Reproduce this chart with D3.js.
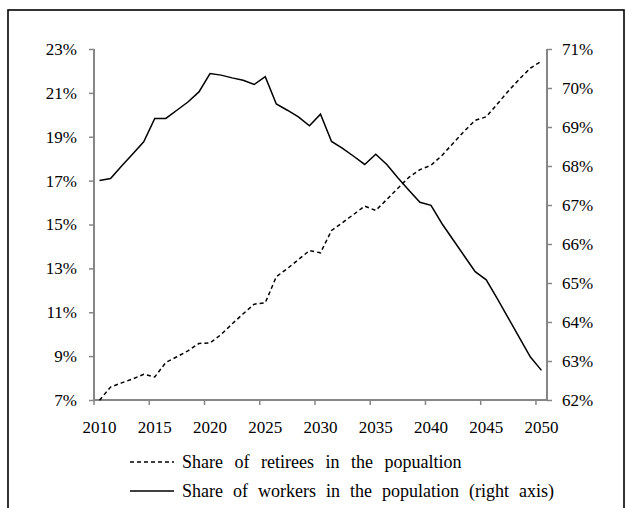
<!DOCTYPE html>
<html>
<head>
<meta charset="utf-8">
<script src="https://cdn.jsdelivr.net/npm/d3@7"></script>
<style>
  body { margin: 0; background: #fff; }
  text { font-family: "Liberation Serif", "Times New Roman", serif; fill: #000; }
</style>
</head>
<body>
<div id="chart"></div>
<script>
// anos (categorias)
const years = d3.range(2010, 2051);

// Share of retirees in the population (eixo esquerdo, %)
const retirees = [6.99, 7.59, 7.78, 7.96, 8.17, 8.05, 8.71, 8.97, 9.24, 9.58,
  9.60, 9.98, 10.47, 10.93, 11.37, 11.43, 12.62, 12.99, 13.40, 13.81,
  13.71, 14.73, 15.09, 15.46, 15.84, 15.64, 16.14, 16.65, 17.15, 17.50,
  17.70, 18.15, 18.70, 19.25, 19.75, 19.91, 20.49, 21.08, 21.63, 22.13, 22.45];

// Share of workers in the population (eixo direito, %)
const workers = [67.63, 67.68, 68.00, 68.31, 68.62, 69.22, 69.22, 69.43, 69.64, 69.90,
  70.37, 70.33, 70.26, 70.20, 70.09, 70.29, 69.59, 69.43, 69.26, 69.03,
  69.33, 68.63, 68.45, 68.25, 68.04, 68.30, 68.04, 67.70, 67.38, 67.07,
  66.99, 66.52, 66.11, 65.70, 65.29, 65.08, 64.60, 64.10, 63.60, 63.10, 62.76];

const leftTicks = [7, 9, 11, 13, 15, 17, 19, 21, 23];
const rightTicks = [62, 63, 64, 65, 66, 67, 68, 69, 70, 71];
const labelYears = [2010, 2015, 2020, 2025, 2030, 2035, 2040, 2045, 2050];

const legendNames = ["Share of retirees in the popualtion",
  "Share of workers in the population (right axis)"];

const W = 626, H = 508;
const plot = { left: 94, right: 547, top: 49, bottom: 400 };
const axisColor = "#868686";
const fontSize = "17px";

const svg = d3.select("#chart").append("svg")
  .attr("width", W).attr("height", H);

// moldura
svg.append("rect")
  .attr("x", 8).attr("y", 10)
  .attr("width", 616).attr("height", 520)
  .attr("fill", "none").attr("stroke", "#000").attr("stroke-width", 1.6);

const x = d3.scaleBand().domain(years).range([plot.left, plot.right]);
const xc = d => x(d) + x.bandwidth() / 2;
const yL = d3.scaleLinear().domain([7, 23]).range([plot.bottom, plot.top]);
const yR = d3.scaleLinear().domain([62, 71]).range([plot.bottom, plot.top]);

// eixo esquerdo
const gL = svg.append("g").attr("transform", `translate(${plot.left},0)`)
  .call(d3.axisLeft(yL).tickValues(leftTicks).tickSize(5).tickPadding(12)
    .tickFormat(d => d + "%"));
// eixo direito
const gR = svg.append("g").attr("transform", `translate(${plot.right},0)`)
  .call(d3.axisRight(yR).tickValues(rightTicks).tickSize(5).tickPadding(10)
    .tickFormat(d => d + "%"));

// eixo x: marcas entre categorias a cada 5 anos
const gX = svg.append("g").attr("transform", `translate(0,${plot.bottom})`);
gX.append("line")
  .attr("x1", plot.left).attr("x2", plot.right)
  .attr("stroke", axisColor).attr("stroke-width", 2);
gX.selectAll(".tk").data(labelYears).enter().append("line")
  .attr("x1", d => x(d)).attr("x2", d => x(d))
  .attr("y1", 0).attr("y2", 5)
  .attr("stroke", axisColor).attr("stroke-width", 1.5);
gX.selectAll(".lb").data(labelYears).enter().append("text")
  .attr("x", d => xc(d)).attr("y", 33)
  .attr("text-anchor", "middle")
  .style("font-size", fontSize)
  .text(d => d);

[gL, gR].forEach(g => {
  g.select(".domain").attr("stroke", axisColor).attr("stroke-width", 2)
    .attr("d", `M0,${plot.bottom}V${plot.top}`);
  g.selectAll(".tick line").attr("stroke", axisColor).attr("stroke-width", 1.5);
  g.selectAll(".tick text").style("font-size", fontSize).attr("fill", "#000");
});

// linhas
const lineL = d3.line().x((d, i) => xc(years[i])).y(d => yL(d));
const lineR = d3.line().x((d, i) => xc(years[i])).y(d => yR(d));

svg.append("path").datum(retirees)
  .attr("fill", "none").attr("stroke", "#000").attr("stroke-width", 1.5)
  .attr("stroke-dasharray", "4,3")
  .attr("d", lineL);

svg.append("path").datum(workers)
  .attr("fill", "none").attr("stroke", "#000").attr("stroke-width", 1.5)
  .attr("d", lineR);

// legenda (espaço entre palavras maior, como no original)
const leg = svg.append("g");
legendNames.forEach((name, i) => {
  const cy = 462 + i * 29;
  leg.append("line")
    .attr("x1", 130).attr("x2", 174).attr("y1", cy).attr("y2", cy)
    .attr("stroke", "#000").attr("stroke-width", 1.3)
    .attr("stroke-dasharray", i === 0 ? "4,3" : null);
  leg.append("text")
    .attr("x", 182).attr("y", cy + 6)
    .style("font-size", "18px")
    .style("word-spacing", i === 0 ? "7px" : "5.5px")
    .text(name);
});
</script>
</body>
</html>
